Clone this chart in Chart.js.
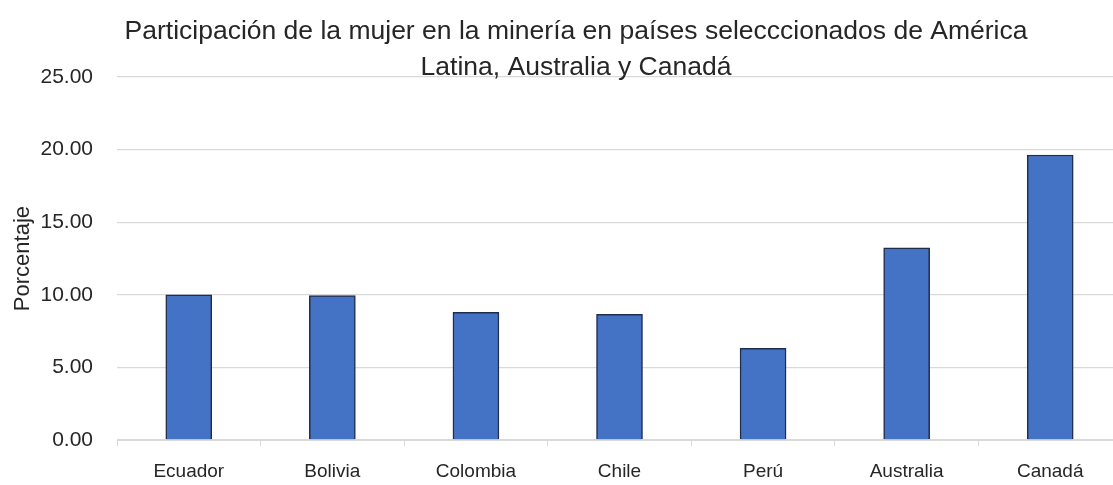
<!DOCTYPE html>
<html>
<head>
<meta charset="utf-8">
<script src="https://cdn.jsdelivr.net/npm/chart.js@4"></script>
<style>
  html, body { margin: 0; padding: 0; background: #fff; overflow: hidden; }
  #wrap { width: 1152px; height: 485px; }
</style>
</head>
<body>
<div id="wrap"><canvas id="chart" width="1152" height="485"></canvas></div>
<script>
// data
const countries = ['Ecuador', 'Bolivia', 'Colombia', 'Chile', 'Perú', 'Australia', 'Canadá'];
const womenShare = [10.0, 9.94, 8.79, 8.66, 6.31, 13.24, 19.63];
const chartTitle = ['Participación de la mujer en la minería en países selecccionados de América', 'Latina, Australia y Canadá'];
const yTitle = 'Porcentaje';

const FONT = "'Liberation Sans', Arial, sans-serif";
const TEXT = '#262626';

const ctx = document.getElementById('chart').getContext('2d');
new Chart(ctx, {
    type: 'bar',
    data: {
        labels: countries,
        datasets: [{
            data: womenShare,
            backgroundColor: '#4472C4',
            borderColor: '#1f2d4d',
            borderWidth: 1.5,
            barThickness: 46
        }]
    },
    options: {
        responsive: false,
        animation: false,
        layout: { padding: 0 },
        plugins: {
            legend: { display: false },
            tooltip: { enabled: false },
            title: {
                display: true,
                text: chartTitle,
                color: TEXT,
                font: { family: FONT, size: 26.5, weight: 'normal', lineHeight: 1.36 },
                padding: { top: 14, bottom: -9 }
            }
        },
        scales: {
            x: {
                offset: true,
                grid: {
                    offset: true,
                    drawOnChartArea: false,
                    tickLength: 6,
                    color: '#d9d9d9'
                },
                border: { color: '#d9d9d9', width: 1 },
                ticks: {
                    color: TEXT,
                    padding: 14,
                    font: { family: FONT, size: 19 }
                },
                // plot ends ~30px before the (cropped) right edge
                afterFit: s => { s.height = 45; s.paddingRight = 30; }
            },
            y: {
                min: 0,
                max: 25,
                ticks: {
                    stepSize: 5,
                    color: TEXT,
                    padding: 24,
                    font: { family: FONT, size: 21 },
                    callback: v => v.toFixed(2)
                },
                grid: { color: '#d9d9d9', drawTicks: false, lineWidth: 1.3 },
                border: { display: false },
                title: {
                    display: true,
                    text: yTitle,
                    color: TEXT,
                    font: { family: FONT, size: 22 },
                    padding: { top: 10, bottom: 0 }
                },
                afterFit: s => { s.width = 117; }
            }
        }
    }
});
</script>
</body>
</html>
